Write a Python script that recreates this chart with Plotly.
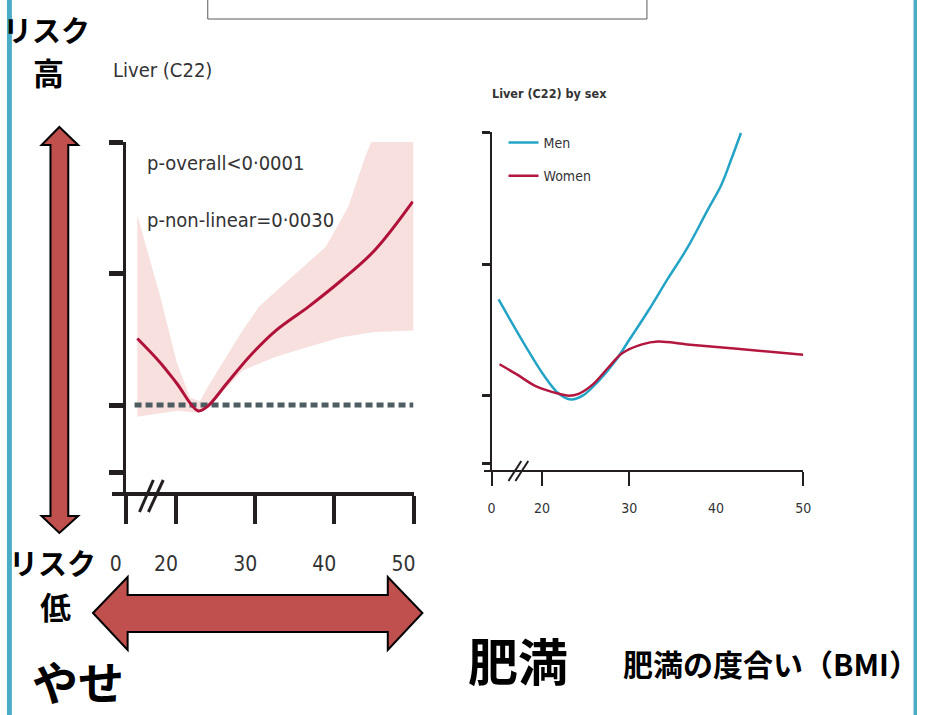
import plotly.graph_objects as go

W, H = 925, 715

# ---------------- data ----------------
# Left panel: Liver (C22), BMI vs hazard ratio (log scale)
bmi_overall = [15.1, 18.0, 20.1, 22.75, 23.9, 26.4, 29.25, 32.6, 36.75, 40.9, 45.1, 49.9]
hr_overall = [1.42, 1.25, 1.12, 0.97, 0.99, 1.12, 1.29, 1.48, 1.68, 1.93, 2.26, 2.92]

ci_upper_bmi = [15.1, 18.0, 20.1, 21.75, 23.0, 24.25, 28.4, 30.5, 34.6, 38.9, 41.75, 43.9, 44.6, 46.75, 50.0]
ci_upper_hr = [2.72, 1.77, 1.25, 1.04, 1.02, 1.12, 1.48, 1.68, 1.96, 2.30, 2.84, 3.70, 3.98, 4.49, 5.26]
ci_lower_bmi = [15.1, 20.1, 23.0, 24.6, 28.4, 32.6, 36.75, 40.9, 45.1, 50.0]
ci_lower_hr = [0.94, 0.97, 0.96, 1.01, 1.20, 1.29, 1.36, 1.43, 1.47, 1.48]

ref_bmi = [14.75, 50.0]
ref_hr = [1.0, 1.0]

# Right panel: Liver (C22) by sex
bmi_men = [15.0, 18.18, 20.11, 21.93, 23.30, 24.66, 26.48, 28.41, 29.89, 32.16, 34.43, 36.70, 38.98, 40.57, 41.70, 42.84]
hr_men = [1.66, 1.29, 1.12, 1.01, 0.98, 1.00, 1.08, 1.20, 1.33, 1.56, 1.85, 2.18, 2.65, 3.03, 3.46, 3.99]
bmi_women = [15.11, 17.05, 19.32, 21.93, 23.07, 24.20, 25.80, 27.61, 29.20, 31.48, 33.30, 36.70, 42.39, 50.0]
hr_women = [1.18, 1.12, 1.05, 1.01, 1.00, 1.01, 1.06, 1.16, 1.25, 1.31, 1.33, 1.31, 1.28, 1.24]

# axis ticks ("0" sits before the axis break)
left_xticks = [13.625, 20, 30, 40, 50]
left_xlabels = ["0", "20", "30", "40", "50"]
right_xticks = [14.2, 20, 30, 50]
right_xlabels = ["0", "20", "30", "50"]
right_extra_label = 40
y_ticks = [0.7, 1, 2, 4]

# ---------------- styling ----------------
AX = "#231f20"
TXT = "#333333"
NARROW = "DejaVu Sans Condensed, Liberation Sans Narrow, sans-serif"
JP = "Noto Sans CJK JP, sans-serif"
RED_ARROW = "#c0504d"
BLUE = "#4bacc6"


def X(p):
    return p / W


def Y(p):
    return 1 - p / H


fig = go.Figure()

# CI band
fig.add_trace(go.Scatter(
    x=ci_upper_bmi + ci_lower_bmi[::-1], y=ci_upper_hr + ci_lower_hr[::-1],
    fill="toself", fillcolor="#f7e0dd", line=dict(width=0), mode="lines",
    xaxis="x", yaxis="y", showlegend=False, hoverinfo="skip"))
# reference line HR = 1
fig.add_trace(go.Scatter(
    x=ref_bmi, y=ref_hr, mode="lines", xaxis="x", yaxis="y", showlegend=False,
    line=dict(color="#4e5d61", width=5, dash="7px,4px")))
# overall curve
fig.add_trace(go.Scatter(
    x=bmi_overall, y=hr_overall, mode="lines", xaxis="x", yaxis="y", showlegend=False,
    line=dict(color="#b0123b", width=3, shape="spline")))
# by sex
fig.add_trace(go.Scatter(
    x=bmi_men, y=hr_men, mode="lines", name="Men", xaxis="x2", yaxis="y2",
    legendgroup="men", line=dict(color="#23a4c6", width=2.5, shape="spline")))
fig.add_trace(go.Scatter(
    x=bmi_women, y=hr_women, mode="lines", name="Women", xaxis="x2", yaxis="y2",
    legendgroup="women", line=dict(color="#b3173f", width=2.5, shape="spline")))

common_x = dict(showgrid=False, zeroline=False, showline=True, ticks="outside",
                tickmode="array", fixedrange=True)
common_y = dict(type="log", showgrid=False, zeroline=False, showline=True, ticks="outside",
                tickmode="array", tickvals=y_ticks, showticklabels=False, fixedrange=True,
                anchor="free")

fig.update_layout(
    width=W, height=H, margin=dict(l=0, r=0, t=0, b=0),
    paper_bgcolor="white", plot_bgcolor="rgba(0,0,0,0)",
    xaxis=dict(common_x, domain=[X(111), X(416)], range=[11.875, 50], anchor="y",
               linewidth=4, linecolor=AX, ticklen=28, tickwidth=3.5, tickcolor=AX,
               tickvals=left_xticks, ticktext=left_xlabels,
               tickfont=dict(family=NARROW, size=21, color=TXT),
               ticklabelshift=-10, ticklabelstandoff=22),
    yaxis=dict(common_y, domain=[Y(492), Y(142)], range=[-0.19916, 0.60206],
               position=X(123.5), linewidth=3, linecolor=AX, ticklen=14, tickwidth=4.5,
               tickcolor=AX),
    xaxis2=dict(common_x, domain=[X(487), X(810)], range=[13.295, 50], anchor="y2",
                linewidth=2, linecolor=AX, ticklen=14, tickwidth=2, tickcolor=AX,
                tickvals=right_xticks, ticktext=right_xlabels,
                tickfont=dict(family=NARROW, size=14, color=TXT),
                ticklabelstandoff=10),
    yaxis2=dict(common_y, domain=[Y(470), Y(132)], range=[-0.1700, 0.6032],
                position=X(494), linewidth=2, linecolor=AX, ticklen=8, tickwidth=2.5,
                tickcolor=AX),
    legend=dict(x=X(507), y=Y(127), xanchor="left", yanchor="top",
                font=dict(family=NARROW, size=14, color=TXT), bgcolor="rgba(0,0,0,0)",
                traceorder="grouped", tracegroupgap=12),
)


def path(points):
    s = "M " + " L ".join(f"{X(a):.5f},{Y(b):.5f}" for a, b in points) + " Z"
    return s


shapes = []
# blue side borders
shapes.append(dict(type="rect", xref="paper", yref="paper", x0=X(5), x1=X(10), y0=0, y1=1,
                   fillcolor=BLUE, line=dict(width=0), layer="below"))
shapes.append(dict(type="rect", xref="paper", yref="paper", x0=X(921.5), x1=X(925), y0=0, y1=1,
                   fillcolor=BLUE, line=dict(width=0), layer="below"))
# top box
shapes.append(dict(type="rect", xref="paper", yref="paper", x0=X(208), x1=X(652), y0=Y(19), y1=Y(-3),
                   line=dict(color="#5a5a5a", width=1), fillcolor="rgba(0,0,0,0)"))
# vertical double arrow
v_arrow = [(58, 127), (77, 145), (67, 145), (67, 516), (77, 516), (58, 533), (40, 516), (49, 516),
           (49, 145), (40, 145)]
shapes.append(dict(type="path", xref="paper", yref="paper", path=path(v_arrow),
                   fillcolor=RED_ARROW, line=dict(color="black", width=2)))
# horizontal double arrow
h_arrow = [(92, 613), (127, 577), (127, 595), (390, 595), (390, 577), (425, 613), (390, 650),
           (390, 632), (127, 632), (127, 650)]
shapes.append(dict(type="path", xref="paper", yref="paper", path=path(h_arrow),
                   fillcolor=RED_ARROW, line=dict(color="black", width=2)))
# axis break marks
for (x0, y0, x1, y1) in [(139, 512, 153, 480), (148, 512, 163, 480)]:
    shapes.append(dict(type="line", xref="paper", yref="paper", x0=X(x0), y0=Y(y0), x1=X(x1), y1=Y(y1),
                       line=dict(color=AX, width=3)))
for (x0, y0, x1, y1) in [(512, 481, 525, 461), (519, 481, 532, 461)]:
    shapes.append(dict(type="line", xref="paper", yref="paper", x0=X(x0), y0=Y(y0), x1=X(x1), y1=Y(y1),
                       line=dict(color=AX, width=2)))
fig.update_layout(shapes=shapes)


def ann(text, px, py, size, family, color=TXT, xanchor="left", weight="normal", yanchor="middle"):
    fig.add_annotation(text=text, xref="paper", yref="paper", x=X(px), y=Y(py),
                       xanchor=xanchor, yanchor=yanchor, showarrow=False,
                       font=dict(family=family, size=size, color=color, weight=weight))


ann("Liver (C22)", 110, 70, 20, NARROW)
ann("p-overall<0·0001", 145, 163, 20, NARROW)
ann("p-non-linear=0·0030", 145, 220, 20, NARROW)
ann("Liver (C22) by sex", 493, 93, 12.5, NARROW, weight="bold")
fig.add_annotation(text=str(right_extra_label), xref="x2", yref="paper", x=right_extra_label, y=Y(508),
                   xanchor="center", yanchor="middle", showarrow=False,
                   font=dict(family=NARROW, size=14, color=TXT))

ann("リスク", 45, 29, 29, JP, color="black", xanchor="center", weight="bold")
ann("高", 47, 71, 31, JP, color="black", xanchor="center", weight="bold")
ann("リスク", 51, 562, 29, JP, color="black", xanchor="center", weight="bold")
ann("低", 54, 605, 31, JP, color="black", xanchor="center", weight="bold")
ann("やせ", 77, 715, 46, JP, color="black", xanchor="center", weight="bold", yanchor="bottom")
ann("肥満", 522, 659, 50, JP, color="black", xanchor="center", weight="bold")
ann("肥満の度合い（BMI）", 626, 663, 30, JP, color="black", weight="bold")

fig.write_html(
    "out.html",
    config={"displayModeBar": False},
    post_script="document.body.style.margin='0';document.body.style.overflow='hidden';"
                "document.documentElement.style.overflow='hidden';",
)
